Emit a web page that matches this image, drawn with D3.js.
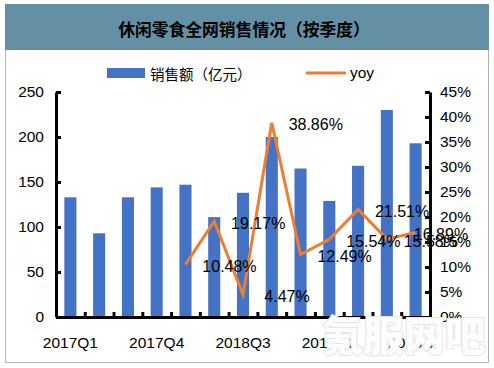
<!DOCTYPE html>
<html>
<meta charset="utf-8">
<head>
  <script src="https://d3js.org/d3.v7.min.js"></script>
  <style>
    body { margin: 0; background: #fff; }
    text { font-family: "Liberation Sans", Arial, sans-serif; }
    .cjk { font-family: "Noto Sans CJK SC", sans-serif; }
  </style>
</head>
<body>
<div id="chart"></div>
<script>

// data
var quarters = ["2017Q1", "2017Q2", "2017Q3", "2017Q4", "2018Q1", "2018Q2", "2018Q3",
                "2018Q4", "2019Q1", "2019Q2", "2019Q3", "2019Q4", "2020Q1"];
var sales = [133, 93, 133, 144, 147, 111, 138, 200, 165, 129, 168, 230, 193];
var yoy = [null, null, null, null, 10.48, 19.17, 4.47, 38.86, 12.49, 15.54, 21.51, 15.58, 16.89];
var leftTicks = [0, 50, 100, 150, 200, 250];
var rightTicks = [0, 5, 10, 15, 20, 25, 30, 35, 40, 45];
var shownLabels = ["2017Q1", "2017Q4", "2018Q3", "2019Q2", "2020Q1"];

var W = 494, H = 368;
var margin = {top: 92, right: 64, bottom: 51, left: 56},
    width = W - margin.left - margin.right,
    height = H - margin.top - margin.bottom;

var svg = d3.select("#chart").append("svg")
    .attr("width", W)
    .attr("height", H);

// frame and title bar
svg.append("rect")
    .attr("x", 5.5).attr("y", 4.5)
    .attr("width", 483).attr("height", 358)
    .attr("fill", "#fff")
    .attr("stroke", "#b4b4b4");
svg.append("rect")
    .attr("x", 5).attr("y", 4)
    .attr("width", 484).attr("height", 46)
    .attr("fill", "#6490a6");
svg.append("text")
    .attr("class", "cjk")
    .attr("x", 244).attr("y", 29)
    .attr("text-anchor", "middle")
    .attr("dominant-baseline", "central")
    .style("font-size", "16.8px")
    .style("font-weight", "bold")
    .text("休闲零食全网销售情况（按季度）");

var g = svg.append("g")
    .attr("transform", "translate(" + margin.left + "," + margin.top + ")");

// scales
var x = d3.scaleBand()
    .domain(quarters)
    .range([0, width])
    .paddingInner(0.58)
    .paddingOuter(0.29);
var xi = d3.scaleLinear().domain([0, quarters.length]).range([0, width]);
var y = d3.scaleLinear().domain([0, 250]).range([height, 0]);
var y2 = d3.scaleLinear().domain([0, 45]).range([height, 0]);

// bars
g.selectAll(".bar")
  .data(sales)
  .enter()
  .append("rect")
    .attr("class", "bar")
    .attr("x", function(d, i) { return x(quarters[i]); })
    .attr("y", function(d) { return y(d); })
    .attr("width", x.bandwidth())
    .attr("height", function(d) { return height - y(d); })
    .attr("fill", "#4472c4");

// yoy line
var cx = function(i) { return x(quarters[i]) + x.bandwidth() / 2; };
var line = d3.line()
    .defined(function(d) { return d != null; })
    .x(function(d, i) { return cx(i); })
    .y(function(d) { return y2(d); });
g.append("path")
    .datum(yoy)
    .attr("d", line)
    .attr("fill", "none")
    .attr("stroke", "#ed7d31")
    .attr("stroke-width", 3)
    .attr("stroke-linejoin", "miter");

// data labels (sit to the right of each point, like the original)
g.selectAll(".lbl")
  .data(yoy)
  .enter()
  .filter(function(d) { return d != null; })
  .append("text")
    .attr("x", function(d) { return Math.min(cx(yoy.indexOf(d)) + 44, width + 11); })
    .attr("y", function(d) { return y2(d) + 2; })
    .attr("text-anchor", "middle")
    .attr("dominant-baseline", "central")
    .style("font-size", "16px")
    .text(function(d) { return d.toFixed(2) + "%"; });

// axes
function styleAxis(sel) {
  sel.selectAll("path, line").attr("stroke", "#000").attr("stroke-width", 3);
  sel.selectAll("text").style("font-size", "15.5px").attr("fill", "#000");
}

g.append("g")
    .call(d3.axisLeft(y).tickValues(leftTicks).tickSize(-5).tickSizeOuter(0).tickPadding(12))
    .call(styleAxis);

g.append("g")
    .attr("transform", "translate(" + width + ",0)")
    .call(d3.axisRight(y2).tickValues(rightTicks).tickSize(-5).tickSizeOuter(0).tickPadding(10)
          .tickFormat(function(d) { return d + "%"; }))
    .call(styleAxis);

g.append("g")
    .attr("transform", "translate(0," + height + ")")
    .call(d3.axisBottom(xi).tickValues(d3.range(quarters.length + 1)).tickSize(-5)
          .tickSizeOuter(0).tickFormat(""))
    .call(styleAxis);

g.append("g")
    .attr("transform", "translate(0," + height + ")")
    .call(d3.axisBottom(x).tickValues(shownLabels).tickSize(0).tickPadding(20))
    .call(styleAxis)
    .select(".domain").remove();

// legend
var legend = svg.append("g");
legend.append("rect")
    .attr("x", 107).attr("y", 68)
    .attr("width", 38).attr("height", 10)
    .attr("fill", "#4472c4");
legend.append("text")
    .attr("class", "cjk")
    .attr("x", 150).attr("y", 73)
    .attr("dominant-baseline", "central")
    .style("font-size", "14.5px")
    .text("销售额（亿元）");
legend.append("line")
    .attr("x1", 306).attr("x2", 346)
    .attr("y1", 73).attr("y2", 73)
    .attr("stroke", "#ed7d31")
    .attr("stroke-width", 3);
legend.append("text")
    .attr("x", 350).attr("y", 72)
    .attr("dominant-baseline", "central")
    .style("font-size", "15.5px")
    .text("yoy");

// watermark
svg.append("text")
    .attr("class", "cjk")
    .attr("x", 404).attr("y", 333)
    .attr("text-anchor", "middle")
    .attr("dominant-baseline", "central")
    .style("font-size", "41px")
    .style("font-weight", "900")
    .attr("fill", "#fdfdfd")
    .attr("stroke", "#e6e6e6")
    .attr("stroke-width", 2)
    .attr("paint-order", "stroke")
    .text("氪服网吧");

</script>
</body>
</html>
